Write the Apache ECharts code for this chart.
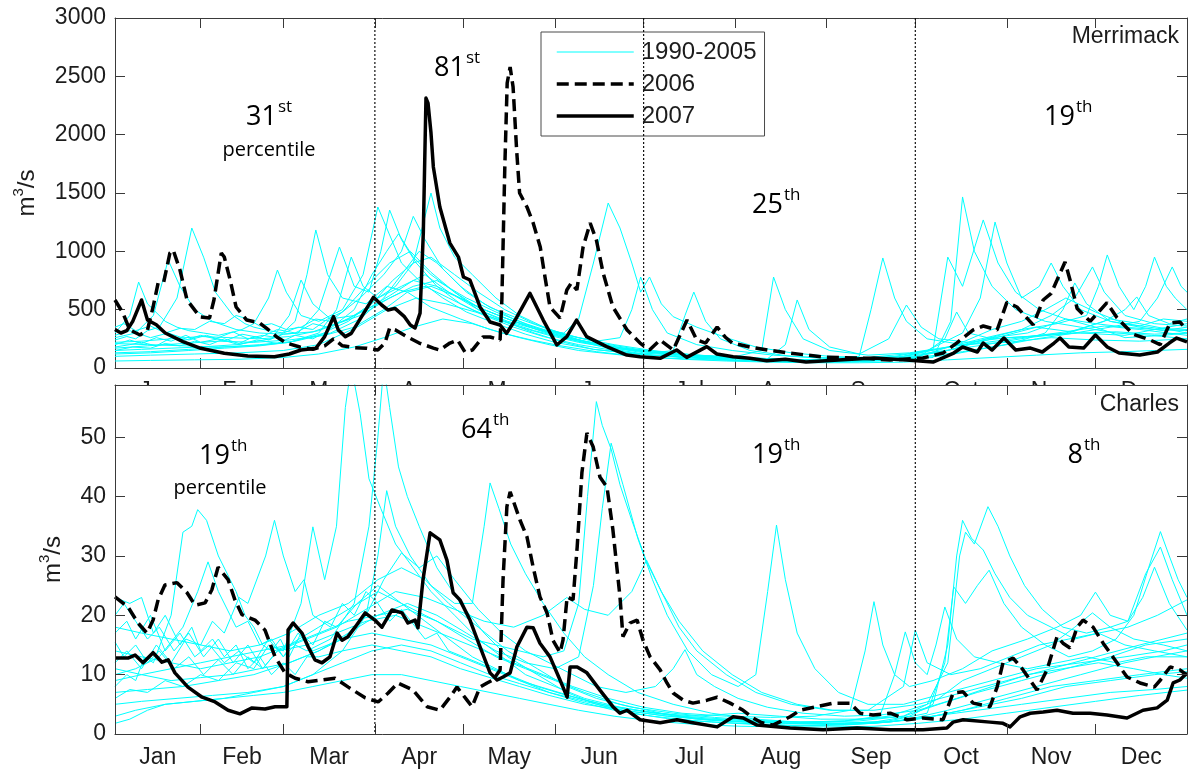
<!DOCTYPE html>
<html>
<head>
<meta charset="utf-8">
<script src="https://cdn.jsdelivr.net/npm/echarts@6/dist/echarts.min.js"></script>
<style>
  html, body { margin: 0; padding: 0; background: #ffffff; }
  #chart { width: 1192px; height: 772px; }
</style>
</head>
<body>
<div id="chart"></div>
<script>
// ---- calendar axis (day of year) ----
const monthNames = ['Jan', 'Feb', 'Mar', 'Apr', 'May', 'Jun', 'Jul', 'Aug', 'Sep', 'Oct', 'Nov', 'Dec'];
const dayStart = 3;
const dayEnd = 366;
const monthTicks = [32, 60, 91, 121, 152, 182, 213, 244, 274, 305, 335, 366];
const seasonBreaks = [91, 182, 274];

// ---- value axes ----
const merrimackTicks = [0, 500, 1000, 1500, 2000, 2500, 3000];
const merrimackTop = 3000;
const charlesTicks = [0, 10, 20, 30, 40, 50];
const charlesTop = 58.8;

// ---- Merrimack daily flow, m3/s : [day of year, flow] ----
const merrimack2006 = [[3,583],[5.7,471],[8,326],[11.5,283],[14,326],[15.9,523],[17.6,729],[19.5,737],[21.6,986],[22.7,1011],[25,840],[27.4,583],[31.8,437],[35,428],[36.5,583],[39,986],[40,951],[42,754],[44,523],[47.6,411],[52,386],[55,326],[57.8,266],[61,214],[65.6,180],[70,160],[74,190],[77,250],[80,190],[84,175],[88,170],[92,154],[94.4,214],[96,343],[98,326],[102,266],[106,214],[110.8,171],[113,154],[116.4,214],[119,240],[121.5,137],[124,154],[127.6,266],[130,266],[133.4,240],[134,583],[135,1723],[135.8,2443],[136.8,2580],[137.8,2408],[139,1869],[140,1500],[142.5,1380],[144.6,1243],[147,1037],[148.6,780],[150.3,523],[153.7,428],[156,669],[157.5,729],[159.4,669],[161.5,1037],[163.9,1243],[166,1097],[168.3,814],[171.6,523],[176.4,326],[180.8,214],[184,154],[187.6,240],[192,154],[196.7,411],[200,240],[203,214],[206.9,351],[209.6,266],[212,214],[218,180],[224,154],[231.6,128],[242.8,94],[254,86],[265.4,69],[276.6,86],[283.4,128],[288,214],[293.6,326],[297,360],[301.7,326],[305,562],[308.4,523],[313.9,369],[317.3,583],[320,640],[322,754],[324.7,909],[326.4,754],[328.8,510],[333.2,400],[338.9,560],[342.3,430],[347.7,290],[353.5,240],[356.9,200],[360.3,386],[363.6,394],[366,326]];

const merrimack2007 = [[3,330],[5,300],[7,320],[9,400],[12,583],[14,411],[17,370],[20,300],[26,226],[32,169],[40,126],[48,103],[57,97],[62,120],[66,154],[71,169],[74,269],[77,440],[78.6,326],[81,269],[83,297],[86.5,440],[90.5,606],[93.3,540],[95.5,497],[97.8,511],[101,440],[103,368],[104.6,343],[106.3,470],[107.4,1157],[108.3,2314],[109,2270],[110,2014],[110.8,1723],[113,1380],[116.4,1071],[119.3,951],[121,780],[123.2,754],[126.6,523],[130,394],[133.4,369],[135.6,297],[138.5,411],[143.5,640],[148,411],[152.6,197],[156,269],[159.3,411],[162.7,269],[169.5,183],[176.3,111],[180.8,97],[187.6,83],[193.2,154],[196.6,91],[203.4,183],[206.8,120],[212.3,97],[218,83],[223.7,63],[230,75],[237,51],[248,69],[260,86],[271,69],[280,51],[287,128],[290,180],[295,137],[297,214],[300,154],[304,257],[308,154],[313,171],[317,137],[321,214],[323,257],[326,180],[331,171],[335,283],[339,180],[343,128],[350,111],[356,137],[360,214],[362.5,257],[366,223]];

const merrimackPrior = [
  [[3,240],[7,270],[10,250],[14,320],[18,350],[24,600],[29,1200],[33,950],[37,650],[43,450],[47,380],[50,350],[55,320],[60,300],[65,350],[70,330],[75,420],[80,480],[88,700],[96,900],[103,1000],[110,820],[118,650],[126,500],[135,400],[145,300],[155,220],[165,160],[180,120],[195,90],[210,70],[225,55],[240,50],[255,55],[270,80],[285,150],[300,250],[315,350],[330,300],[345,280],[355,330],[366,380]],
  [[3,300],[8,450],[11,737],[14,550],[20,400],[24,350],[28,320],[33,300],[38,280],[43,310],[48,250],[53,280],[58,260],[64,400],[68,800],[71,1183],[75,800],[80,600],[88,550],[95,700],[102,650],[110,520],[120,420],[130,330],[140,260],[150,200],[160,150],[175,110],[190,85],[205,70],[220,60],[235,55],[250,60],[262,100],[275,130],[290,200],[300,260],[312,300],[325,420],[335,350],[345,260],[358,280],[366,300]],
  [[3,180],[8,200],[12,220],[17,190],[22,260],[27,240],[32,280],[37,250],[42,300],[46,330],[50,380],[55,600],[58,840],[61,650],[66,450],[72,400],[80,500],[87,800],[92,1380],[95,1200],[100,900],[106,750],[114,600],[122,480],[132,380],[142,290],[152,220],[165,160],[180,120],[195,95],[210,80],[222,150],[226,780],[230,500],[236,250],[245,150],[258,110],[272,130],[285,180],[298,220],[310,260],[322,300],[338,360],[350,330],[366,280]],
  [[3,150],[9,180],[15,170],[20,210],[25,190],[30,230],[35,200],[40,250],[45,210],[50,270],[55,240],[60,290],[65,300],[72,500],[79,1037],[84,700],[89,650],[93,1000],[96,1354],[100,1100],[105,900],[112,700],[120,550],[128,450],[138,350],[148,270],[160,200],[172,150],[185,110],[200,85],[215,65],[232,55],[247,50],[262,60],[280,90],[286,400],[290,1466],[294,1000],[300,700],[308,500],[318,400],[330,350],[342,300],[354,280],[366,250]],
  [[3,120],[15,130],[28,150],[40,170],[52,190],[62,220],[72,300],[78,500],[83,951],[87,700],[92,600],[98,700],[104,900],[110,1500],[113,1200],[118,950],[124,800],[132,600],[140,450],[150,330],[160,240],[170,180],[182,130],[196,100],[210,80],[225,65],[240,60],[255,70],[270,100],[280,160],[285,951],[290,700],[297,1269],[302,900],[308,650],[316,500],[325,420],[335,380],[345,350],[355,330],[366,320]],
  [[3,200],[8,240],[12,210],[17,260],[22,230],[27,280],[32,220],[38,250],[45,200],[51,240],[58,210],[64,280],[70,250],[76,330],[82,400],[92,600],[100,700],[108,800],[116,650],[126,500],[136,400],[146,330],[155,300],[160,420],[165,900],[170,1414],[174,1200],[178,900],[181,650],[184,780],[188,550],[192,440],[200,350],[210,260],[220,180],[232,130],[245,100],[258,90],[270,100],[284,150],[298,200],[312,260],[326,300],[340,420],[350,380],[366,300]],
  [[3,100],[15,110],[30,120],[45,130],[60,150],[72,200],[85,350],[95,500],[105,600],[115,550],[125,480],[135,400],[145,320],[158,240],[170,170],[182,120],[192,150],[196,450],[199,651],[203,400],[208,250],[218,150],[232,100],[245,80],[255,100],[259,500],[263,943],[267,600],[271,400],[278,250],[290,200],[305,220],[320,260],[335,240],[350,230],[366,250]],
  [[3,280],[8,320],[15,260],[21,300],[28,240],[34,280],[40,230],[46,290],[52,260],[58,330],[64,300],[70,380],[75,350],[86,450],[96,600],[104,700],[112,750],[122,600],[132,480],[142,380],[152,300],[162,230],[175,170],[190,130],[205,100],[220,80],[235,70],[250,75],[265,90],[278,150],[290,300],[296,600],[301,1251],[305,900],[310,600],[316,700],[320,900],[324,700],[330,500],[340,400],[350,360],[358,420],[366,400]],
  [[3,220],[12,230],[22,250],[32,270],[42,260],[52,250],[62,270],[72,320],[82,420],[90,550],[97,750],[104,900],[110,950],[118,800],[126,650],[135,500],[145,380],[155,290],[168,210],[180,160],[195,120],[210,95],[225,80],[240,70],[255,70],[270,90],[285,150],[298,250],[310,330],[322,380],[332,450],[336,700],[339,969],[343,700],[348,500],[352,700],[355,951],[359,700],[362,600],[366,500]],
  [[3,130],[15,140],[28,160],[40,180],[52,200],[64,230],[76,300],[86,420],[94,600],[100,800],[106,1000],[112,900],[120,700],[128,550],[138,420],[148,320],[158,250],[170,190],[182,140],[196,110],[210,90],[225,75],[240,65],[255,60],[270,70],[285,110],[300,180],[315,250],[328,300],[340,350],[350,400],[356,600],[361,866],[364,700],[366,650]],
  [[3,60],[15,65],[30,70],[45,75],[60,90],[72,120],[84,180],[94,260],[104,350],[114,420],[124,380],[134,300],[144,240],[154,190],[166,140],[180,100],[195,75],[210,60],[225,50],[240,45],[255,45],[270,50],[285,70],[300,90],[315,110],[330,130],[345,140],[355,150],[366,160]],
  [[3,350],[6,380],[10,320],[15,360],[20,300],[25,340],[30,330],[35,400],[40,380],[44,450],[48,420],[52,360],[56,380],[61,330],[66,350],[71,420],[76,400],[86,600],[94,800],[100,1000],[104,1300],[108,1100],[114,850],[122,650],[130,520],[140,420],[150,330],[160,260],[172,200],[185,150],[200,110],[215,90],[230,75],[245,65],[260,70],[275,90],[290,140],[305,200],[318,300],[324,500],[328,729],[332,550],[340,400],[350,350],[358,320],[366,350]],
  [[3,170],[14,190],[26,210],[38,230],[50,220],[62,240],[74,280],[84,350],[94,500],[102,650],[110,700],[118,620],[126,520],[136,420],[146,330],[158,250],[170,190],[184,140],[198,110],[212,90],[224,80],[230,200],[234,583],[238,330],[245,180],[255,120],[265,250],[271,540],[276,350],[282,250],[292,220],[305,260],[318,280],[330,300],[342,310],[355,290],[366,300]],
  [[3,260],[10,300],[16,450],[21,926],[25,700],[30,500],[36,400],[44,330],[52,300],[60,290],[70,310],[80,400],[88,500],[96,620],[104,750],[112,700],[120,600],[128,500],[138,400],[148,310],[160,230],[172,170],[186,130],[200,100],[215,80],[230,70],[245,65],[260,70],[275,100],[288,200],[300,330],[310,400],[318,500],[325,600],[335,480],[345,380],[356,340],[366,330]],
  [[3,210],[14,200],[26,190],[38,180],[50,190],[62,220],[74,300],[84,500],[90,800],[95,1000],[99,1150],[104,950],[110,800],[118,650],[126,520],[136,420],[146,340],[156,280],[166,230],[174,260],[178,500],[181,780],[185,500],[190,300],[200,200],[212,150],[226,110],[240,90],[255,85],[270,100],[285,180],[298,260],[310,330],[320,450],[328,600],[334,866],[338,650],[345,450],[355,380],[366,360]],
  [[3,150],[12,160],[22,170],[32,180],[44,200],[56,250],[62,450],[66,754],[70,550],[76,420],[84,450],[92,550],[100,650],[108,700],[116,600],[124,500],[132,420],[140,350],[150,280],[160,220],[172,170],[186,130],[200,100],[215,80],[230,70],[245,60],[260,65],[275,90],[284,250],[288,480],[292,300],[300,250],[312,270],[325,300],[338,400],[345,500],[349,609],[353,450],[360,380],[366,420]]
];

// ---- Charles daily flow, m3/s : [day of year, flow] ----
const charles2006 = [[3,23.1],[7.4,21.4],[10.8,18.7],[13.8,17],[15.9,19.2],[17.6,22.6],[19.9,25.1],[24,25.5],[27.4,23.8],[30.1,21.7],[33.5,22.1],[35.8,24.3],[37.9,28.1],[41.3,26],[43.6,22.6],[46,20.1],[50.4,19.2],[53.8,17.5],[57.2,13],[60.6,10.3],[64,9.4],[68.4,8.8],[73.1,9.1],[77.5,9.4],[82,7.9],[87.7,6.1],[92.1,5.4],[95.5,6.9],[98.8,8.6],[103.9,7.4],[108.7,4.6],[113,4],[116.4,6.2],[118.8,7.9],[122.2,5.7],[123.9,4.6],[126.6,7.9],[129,8.6],[131,9.1],[133.4,10.8],[134.4,26],[135.7,38.3],[136.8,40.8],[140.1,36.1],[142.5,33.2],[144.6,28.1],[146.9,23.1],[149.3,20.4],[151.3,15.8],[153.7,13.7],[154.7,15.8],[156.1,23.1],[158.1,22.6],[159.5,31.5],[161.1,44],[162.8,50.7],[164.9,48.4],[167.2,43.3],[169.6,41.6],[171.6,34.4],[174,23.1],[175,16.4],[177.4,18.7],[179.8,19.2],[181.8,15.8],[184.2,13],[187.6,10.8],[189.9,8.6],[192,6.9],[195.4,5.7],[198.7,5.2],[203.5,5.7],[206.9,6.2],[211.3,5.2],[215.7,4],[219,2.7],[222,1.9],[225.8,1.5],[231.6,2.9],[235,4],[240.7,4.6],[246.1,5.2],[251.9,5.2],[255.3,3.5],[259.7,3.2],[265.5,3.5],[271.2,2.4],[276.6,2.7],[283.4,2.4],[286.8,6.9],[290.2,7.1],[293.6,5.2],[299.3,4.6],[301.7,7.9],[303.7,12],[307.1,12.8],[310.5,10.8],[315.2,7.4],[318.6,10.8],[322,16.4],[324,15.3],[326.4,14.5],[328.8,18],[330.8,19.2],[334.2,18],[337.6,15.3],[342.3,12],[345.7,9.6],[350.1,8.6],[354.9,7.9],[357,9.1],[360.3,11.3],[363.6,10.8],[366,9.9]];

const charles2007 = [[3,12.8],[7.4,12.8],[9.8,13.3],[12.5,12],[15.9,13.7],[18.9,12.1],[21,12.5],[23.3,10.3],[27.7,7.9],[32.5,6.2],[36.9,5.4],[41.3,4],[45.3,3.4],[49.4,4.4],[53.8,4.2],[57.2,4.6],[61.2,4.6],[61.6,17.5],[63.3,18.7],[66.3,17],[68.4,14.7],[70.7,12.5],[73.1,12],[75.8,13],[78.2,17],[79.9,15.8],[81.9,16.4],[84.3,18],[87.7,20.4],[91,19.2],[93.4,18],[96.8,20.9],[100.2,20.4],[102.2,18.7],[104.6,19.2],[105.6,17.9],[107.3,26],[109.7,33.9],[113,32.7],[115.4,29.3],[117.5,23.8],[119.8,22.6],[123.2,19.2],[126.6,14.7],[130,10.3],[132.4,9.1],[134.4,9.6],[136.8,10.3],[139.1,14.7],[142.5,18],[144.6,17.9],[146.9,15.3],[150.3,13],[153.7,9.1],[156.1,6.2],[157.1,11.3],[159.5,11.3],[162.8,10.3],[167.2,7.4],[171.6,4.6],[174,3.5],[176.4,4],[180.8,2.4],[187.6,1.9],[193.3,2.4],[198.7,1.9],[206.9,1.2],[212.3,2.9],[215.7,2.7],[220.4,1.5],[231.6,1],[242.8,0.7],[254.3,1],[265.5,0.7],[276.6,0.7],[284.7,1],[286.8,2],[290.2,2.4],[299.3,2],[303.7,1.8],[306.1,1.2],[309.5,2.9],[312.9,3.5],[317.3,3.7],[322,4],[327.4,3.5],[333.2,3.5],[338.9,3.2],[345.7,2.7],[351.1,4],[355.9,4.4],[359.3,5.7],[361.3,8.6],[363.6,9.1],[366,10.3]];

const charlesPrior = [
  [[3,8],[7,10],[10,9],[13,13],[16,12],[19,16],[22,20],[26,34],[29,35],[31,37.8],[34,36],[38,30],[44,24],[47,20],[50,18],[53,15],[56,14],[59,16],[62,13],[66,17],[70,15],[74,19],[78,18],[85,22],[92,25],[100,22],[108,19],[116,16],[124,13],[132,11],[140,9],[150,7],[160,5.5],[172,4],[185,3],[200,2.2],[215,1.8],[230,1.5],[245,1.5],[260,1.8],[272,2.5],[285,4],[300,6],[315,8],[330,10],[345,12],[355,13],[366,14]],
  [[3,12],[7,14],[12,11],[17,15],[22,12],[27,16],[32,15],[36,19],[40,17],[45,23],[48,22],[54,30],[57,36],[60,30],[64,24],[67,26],[70,20],[76,18],[80,22],[84,20],[88,24],[92,22],[96,19],[100,21],[108,16],[112,17],[116,14],[126,12],[136,10],[146,8],[156,6.5],[168,5],[180,4],[195,3],[210,2.5],[225,2],[240,2],[255,2.2],[270,3],[282,5],[295,7],[310,9],[325,11],[340,13],[352,15],[366,16]],
  [[3,6],[8,7.5],[14,7],[20,9],[26,8],[32,10],[38,9],[44,12],[50,11],[55,15],[60,14],[66,22],[70,34.9],[74,26],[78,35],[81,55],[83,62],[86,54],[89,43],[93,38],[98,32],[104,28],[110,24],[118,20],[126,16],[134,13],[142,10],[152,8],[162,6],[174,4.5],[186,3.5],[200,2.5],[215,2],[230,1.8],[245,1.6],[260,1.8],[275,2.5],[290,4],[305,6],[320,8],[335,9],[350,10],[366,11]],
  [[3,10],[10,11],[18,13],[26,18],[31,24],[34.5,29],[38,24],[44,18],[48,19],[52,15],[56,16],[60,13],[64,15],[68,14],[76,16],[84,22],[89,35],[92,50],[94,62],[96,55],[99,45],[102,40],[106,35],[112,28],[120,22],[128,17],[136,13],[146,10],[156,7],[166,5],[178,3.5],[190,2.6],[205,2],[220,1.6],[235,1.4],[250,1.5],[265,2],[280,3],[295,4.5],[310,6],[325,8],[340,9],[355,10],[366,10.5]],
  [[3,5],[12,5.5],[24,6],[36,6.5],[48,7],[60,8],[70,10],[80,14],[88,20],[92,30],[95,41],[98,35],[103,30],[110,25],[118,22],[124,22],[128,35],[130,42.3],[133,38],[137,32],[142,27],[148,22],[155,17],[162,13],[170,10],[180,7],[192,5],[205,3.5],[220,2.5],[235,2],[250,1.8],[265,2],[280,3],[295,4],[310,5],[325,6],[340,7],[355,7.5],[366,8]],
  [[3,14],[12,13],[22,12],[32,11],[42,12],[52,13],[62,15],[72,18],[82,21],[92,24],[100,22],[108,20],[116,18],[124,16],[132,15],[140,14],[148,13],[155,14],[160,22],[163,40],[166,56],[168,52],[171,48],[174,42],[178,36],[183,29],[188,24],[194,18],[200,14],[210,10],[220,7],[232,5],[245,4],[260,4],[275,5],[290,7],[305,9],[320,11],[335,13],[350,15],[366,17]],
  [[3,7],[14,7.5],[26,8],[38,9],[50,10],[62,12],[72,14],[82,17],[92,20],[102,22],[112,20],[122,17],[132,14],[142,12],[152,11],[160,13],[165,25],[168,38],[171,49],[175,42],[180,33],[185,26],[190,20],[197,14],[205,10],[214,8],[220,10],[224,24],[227,35.2],[230,26],[234,17],[240,11],[248,7],[258,5],[270,5],[285,7],[300,9],[315,11],[330,12],[345,13],[358,14],[366,15]],
  [[3,18],[12,17],[22,16],[32,15],[42,14],[52,15],[62,17],[72,20],[82,22],[92,26],[100,28],[108,26],[116,22],[126,18],[136,14],[146,11],[156,8],[166,6],[178,4.5],[192,3.5],[206,2.8],[220,2.3],[235,2],[250,2.2],[265,3],[278,5],[285,12],[289,30],[291,34],[294,32],[298.6,38.3],[302,35],[306,30],[311,25],[317,21],[324,18],[332,17],[340,18],[348,16],[358,15],[366,14]],
  [[3,9],[12,10],[22,11],[32,12],[42,13],[52,14],[62,15],[72,17],[82,19],[92,20],[102,21],[112,19],[122,16],[132,13],[142,11],[152,9],[162,7],[174,5],[188,3.5],[202,2.5],[218,2],[232,1.8],[246,1.8],[260,2],[272,3],[280,5],[285,15],[288,30],[290,36],[293,33],[297,31],[301,27],[306,23],[312,20],[320,18],[328,16],[336,17],[345,15],[355,14],[366,13]],
  [[3,3],[10,4],[20,5],[30,5.5],[40,6],[50,7],[60,8],[70,10],[80,12],[90,14],[100,15],[110,14],[120,12],[130,10],[140,8.5],[150,7],[162,5.5],[175,4],[190,3],[205,2.3],[220,2],[235,1.8],[250,1.8],[265,2.2],[278,3.5],[284,12],[287,24.8],[291,22],[295,25],[299,27.6],[304,22],[310,18],[318,15],[326,13],[334,14],[342,16],[348,20],[353,28],[357,34.1],[360,30],[363,26],[366,23]],
  [[3,17],[7,19],[10,16],[15,20],[20,14],[25,17],[30,13],[35,15],[40,12],[45,14],[50,12],[55,16],[60,13],[65,17],[70,14],[80,16],[90,17],[100,16],[110,15],[120,13],[130,11],[140,9],[150,7.5],[160,6],[172,4.5],[186,3.5],[200,3],[214,3.5],[228,3],[242,2.5],[256,2.5],[270,3],[282,6],[290,9],[300,11],[310,13],[320,15],[328,18],[334,20.4],[340,18],[346,19],[352,27],[357,31.5],[361,26],[366,20]],
  [[3,20],[6,22],[10,19],[14,16],[18,18],[23,14],[28,17],[33,13],[38,16],[43,12],[48,15],[53,11],[58,14],[68,15],[78,17],[88,19],[98,20],[108,18],[118,16],[128,14],[138,12],[148,10],[158,8],[170,6],[182,4.5],[195,3.5],[210,3],[225,2.8],[240,3],[252,4],[257,14],[260,22.3],[263,15],[267,10],[272,8],[280,9],[290,11],[300,14],[312,16],[322,18],[330,20],[335,23.9],[340,20],[346,19],[351,23],[355,28.1],[360,22],[366,17.5]],
  [[3,23],[8,22],[12,23],[16,17],[20,20],[25,15],[29,18],[32,14],[36,16],[40,13],[44,15],[48,11],[52,13],[56,10],[60,12],[64,10],[68,13],[72,13],[80,14],[90,15],[100,14],[110,13],[120,11],[130,9.5],[140,8],[150,6.5],[162,5],[175,4],[190,3],[205,2.5],[220,2.2],[235,2],[250,2.2],[262,3],[267,10],[270.6,17.2],[274,12],[278,10],[281,15],[284,21.4],[288,16],[294,13],[302,12],[312,11],[322,12],[332,13],[342,12],[352,13],[366,13]],
  [[3,1.8],[8,2.5],[14,4],[20,5],[30,5.5],[40,6],[50,6.5],[60,7],[70,8],[80,9],[90,10],[100,10],[110,9],[120,8],[130,7],[140,6],[150,5],[160,4],[172,3],[185,2.2],[200,1.6],[215,1.3],[230,1.2],[245,1.2],[260,1.3],[275,1.8],[290,2.5],[305,3.5],[320,4.5],[335,5.5],[350,6.5],[366,7.4]],
  [[3,11],[12,10],[22,9],[32,9.5],[42,10],[52,11],[62,12],[72,14],[80,16],[88,20],[94,26],[100,30.5],[106,28],[112,30],[118,26],[126,21],[134,17],[142,14],[150,12],[158,10],[166,8],[176,7],[186,8],[192,11],[196,14.2],[200,10],[206,8],[214,6],[224,4.5],[236,3.5],[250,3],[262,3.2],[275,4],[288,6],[300,8],[312,10],[324,11],[336,12],[348,11],[358,10],[366,9.4]],
  [[3,15.5],[6,13],[10,15],[14,12],[18,14],[23,11],[28,13],[33,10],[38,12.5],[43,10],[48,13],[53,11],[58,14],[68,16],[78,18],[88,21],[98,24],[108,23],[118,21],[128,19],[138,18],[148,20],[156,23],[162,21],[170,20],[178,24],[183,29.3],[188,24],[194,19],[202,14],[212,10],[222,7],[234,5],[246,4],[258,4],[270,8],[274,17.5],[278,12],[286,10],[296,11],[306,13],[316,15],[326,16],[336,17],[346,18],[356,20],[366,22.6]]
];

// ---- text drawn on the panels ----
const panelTitles = ['Merrimack', 'Charles'];
const percentileNotes = [
  { num: '31', sup: 'st', sub: 'percentile', x: 277, y: 117, subX: 269, subY: 150 },
  { num: '81', sup: 'st', x: 465, y: 68 },
  { num: '25', sup: 'th', x: 783, y: 205 },
  { num: '19', sup: 'th', x: 1075, y: 117 },
  { num: '19', sup: 'th', sub: 'percentile', x: 230, y: 456, subX: 220, subY: 488 },
  { num: '64', sup: 'th', x: 492, y: 430 },
  { num: '19', sup: 'th', x: 783, y: 455 },
  { num: '8', sup: 'th', x: 1083, y: 455 }
];

// ---- styling ----
const FONT = '"Liberation Sans", Arial, Helvetica, sans-serif';
const NOTE_FONT = '"Open Sans", "DejaVu Sans", sans-serif';
const CYAN = '#00ffff';
const INK = '#000000';
const AXIS_COLOR = '#3a3a3a';
const TEXT_COLOR = '#1c1c1c';

const edges = [dayStart].concat(monthTicks);
const monthCentres = monthNames.map((_, i) => (edges[i] + edges[i + 1]) / 2);

// the lower panel is painted above the upper one, so it hides most of the upper month names
const LOWER_Z = 5;
const gridBoxes = [
  { left: 115, top: 18, width: 1072, height: 350 },
  { left: 115, top: 385, width: 1072, height: 349, show: true, backgroundColor: '#ffffff', borderWidth: 0, z: LOWER_Z }
];

function xAxisFor(gridIndex, position, withLabels, z) {
  return {
    type: 'value', gridIndex, position, min: dayStart, max: dayEnd, z,
    axisLine: { show: true, onZero: false, lineStyle: { color: AXIS_COLOR, width: 1 } },
    axisTick: { show: true, inside: true, length: 10, customValues: monthTicks, lineStyle: { color: AXIS_COLOR } },
    axisLabel: {
      show: withLabels, margin: 12, customValues: monthCentres,
      fontFamily: FONT, fontSize: 23, color: TEXT_COLOR,
      formatter: v => {
        const i = monthCentres.findIndex(c => Math.abs(c - v) < 0.01);
        return i >= 0 ? monthNames[i] : '';
      }
    },
    splitLine: { show: false }
  };
}

function yAxisFor(gridIndex, position, top, ticks, withLabels, nameGap, z) {
  const axis = {
    type: 'value', gridIndex, position, min: 0, max: top, z,
    axisLine: { show: true, onZero: false, lineStyle: { color: AXIS_COLOR, width: 1 } },
    axisTick: { show: true, inside: true, length: 10, customValues: ticks, lineStyle: { color: AXIS_COLOR } },
    axisLabel: {
      show: withLabels, margin: 9, customValues: ticks,
      fontFamily: FONT, fontSize: 23, color: TEXT_COLOR,
      formatter: v => String(v)
    },
    splitLine: { show: false }
  };
  if (withLabels) {
    Object.assign(axis, {
      name: '{b|m}{s|3}{b|/s}', nameLocation: 'middle', nameRotate: 90, nameGap,
      nameTextStyle: {
        color: TEXT_COLOR,
        rich: {
          b: { fontFamily: FONT, fontSize: 24, color: TEXT_COLOR, verticalAlign: 'bottom', lineHeight: 28 },
          s: { fontFamily: FONT, fontSize: 15, color: TEXT_COLOR, verticalAlign: 'top', lineHeight: 16 }
        }
      }
    });
  }
  return axis;
}

function flowLine(name, data, axisIndex, style) {
  return {
    type: 'line', name, data, xAxisIndex: axisIndex, yAxisIndex: axisIndex,
    z: axisIndex === 0 ? 2 : LOWER_Z + 1,
    symbol: 'none', showSymbol: false, smooth: false, silent: true, clip: true,
    lineStyle: style, itemStyle: { color: style.color }, emphasis: { disabled: true }
  };
}

const dashed2006 = { color: INK, width: 3.5, type: [12, 6], cap: 'butt' };
const solid2007 = { color: INK, width: 3.5, join: 'round' };
const thinPrior = { color: CYAN, width: 1 };

const series = [];
merrimackPrior.forEach(d => series.push(flowLine('1990-2005', d, 0, thinPrior)));
charlesPrior.forEach(d => series.push(flowLine('1990-2005', d, 2, thinPrior)));
series.push(flowLine('2006', merrimack2006, 0, dashed2006));
series.push(flowLine('2006', charles2006, 2, dashed2006));
series.push(flowLine('2007', merrimack2007, 0, solid2007));
series.push(flowLine('2007', charles2007, 2, solid2007));

const option = {
  animation: false,
  backgroundColor: '#ffffff',
  grid: gridBoxes.map(g => Object.assign({ containLabel: false, outerBoundsMode: 'none' }, g)),
  xAxis: [
    xAxisFor(0, 'bottom', true, 0),
    xAxisFor(0, 'top', false, 0),
    xAxisFor(1, 'bottom', true, LOWER_Z + 2),
    xAxisFor(1, 'top', false, LOWER_Z + 2)
  ],
  yAxis: [
    yAxisFor(0, 'left', merrimackTop, merrimackTicks, true, 76, 0),
    yAxisFor(0, 'right', merrimackTop, merrimackTicks, false, 0, 0),
    yAxisFor(1, 'left', charlesTop, charlesTicks, true, 50, LOWER_Z + 2),
    yAxisFor(1, 'right', charlesTop, charlesTicks, false, 0, LOWER_Z + 2)
  ],
  legend: {
    show: true, selectedMode: false, orient: 'vertical',
    left: 541, top: 32,
    itemWidth: 77, itemHeight: 24, itemGap: 8,
    padding: [8, 8, 8, 14],
    backgroundColor: '#ffffff', borderColor: '#4a4a4a', borderWidth: 1, borderRadius: 0,
    itemStyle: { opacity: 0 },
    textStyle: { fontFamily: FONT, fontSize: 24, color: TEXT_COLOR, padding: [0, 0, 0, 3] },
    data: [
      { name: '1990-2005', lineStyle: { width: 1 } },
      { name: '2006', lineStyle: { width: 3.5 } },
      { name: '2007', lineStyle: { width: 3.5 } }
    ]
  },
  series
};

const chart = echarts.init(document.getElementById('chart'), null, { renderer: 'canvas' });
chart.setOption(option);

// season separators, panel titles and percentile notes
const overlay = [];
seasonBreaks.forEach(d => {
  const a = chart.convertToPixel({ xAxisIndex: 0, yAxisIndex: 0 }, [d, merrimackTop]);
  const b = chart.convertToPixel({ xAxisIndex: 2, yAxisIndex: 2 }, [d, 0]);
  overlay.push({
    type: 'line', silent: true, z: 20,
    shape: { x1: a[0], y1: a[1], x2: b[0], y2: b[1] },
    style: { stroke: '#111111', lineWidth: 1.2, lineDash: [2, 2] }
  });
});
const titleAnchors = [
  chart.convertToPixel({ xAxisIndex: 0, yAxisIndex: 0 }, [dayEnd, merrimackTop]),
  chart.convertToPixel({ xAxisIndex: 2, yAxisIndex: 2 }, [dayEnd, charlesTop])
];
panelTitles.forEach((t, i) => {
  overlay.push({
    type: 'text', silent: true, z: 20,
    x: titleAnchors[i][0] - 8, y: titleAnchors[i][1] + (i === 0 ? 19 : 20),
    style: { text: t, fontFamily: FONT, fontSize: 23, fill: TEXT_COLOR, align: 'right', verticalAlign: 'middle' }
  });
});
percentileNotes.forEach(n => {
  overlay.push({
    type: 'text', silent: true, z: 20, x: n.x, y: n.y,
    style: { text: n.num, fontFamily: NOTE_FONT, fontSize: 27, fill: '#000', align: 'right', verticalAlign: 'middle' }
  });
  overlay.push({
    type: 'text', silent: true, z: 20, x: n.x + 1, y: n.y - 10,
    style: { text: n.sup, fontFamily: NOTE_FONT, fontSize: 17, fill: '#000', align: 'left', verticalAlign: 'middle' }
  });
  if (n.sub) {
    overlay.push({
      type: 'text', silent: true, z: 20, x: n.subX, y: n.subY,
      style: { text: n.sub, fontFamily: NOTE_FONT, fontSize: 20, fill: '#000', align: 'center', verticalAlign: 'middle' }
    });
  }
});
chart.setOption({ graphic: overlay });
</script>
</body>
</html>
